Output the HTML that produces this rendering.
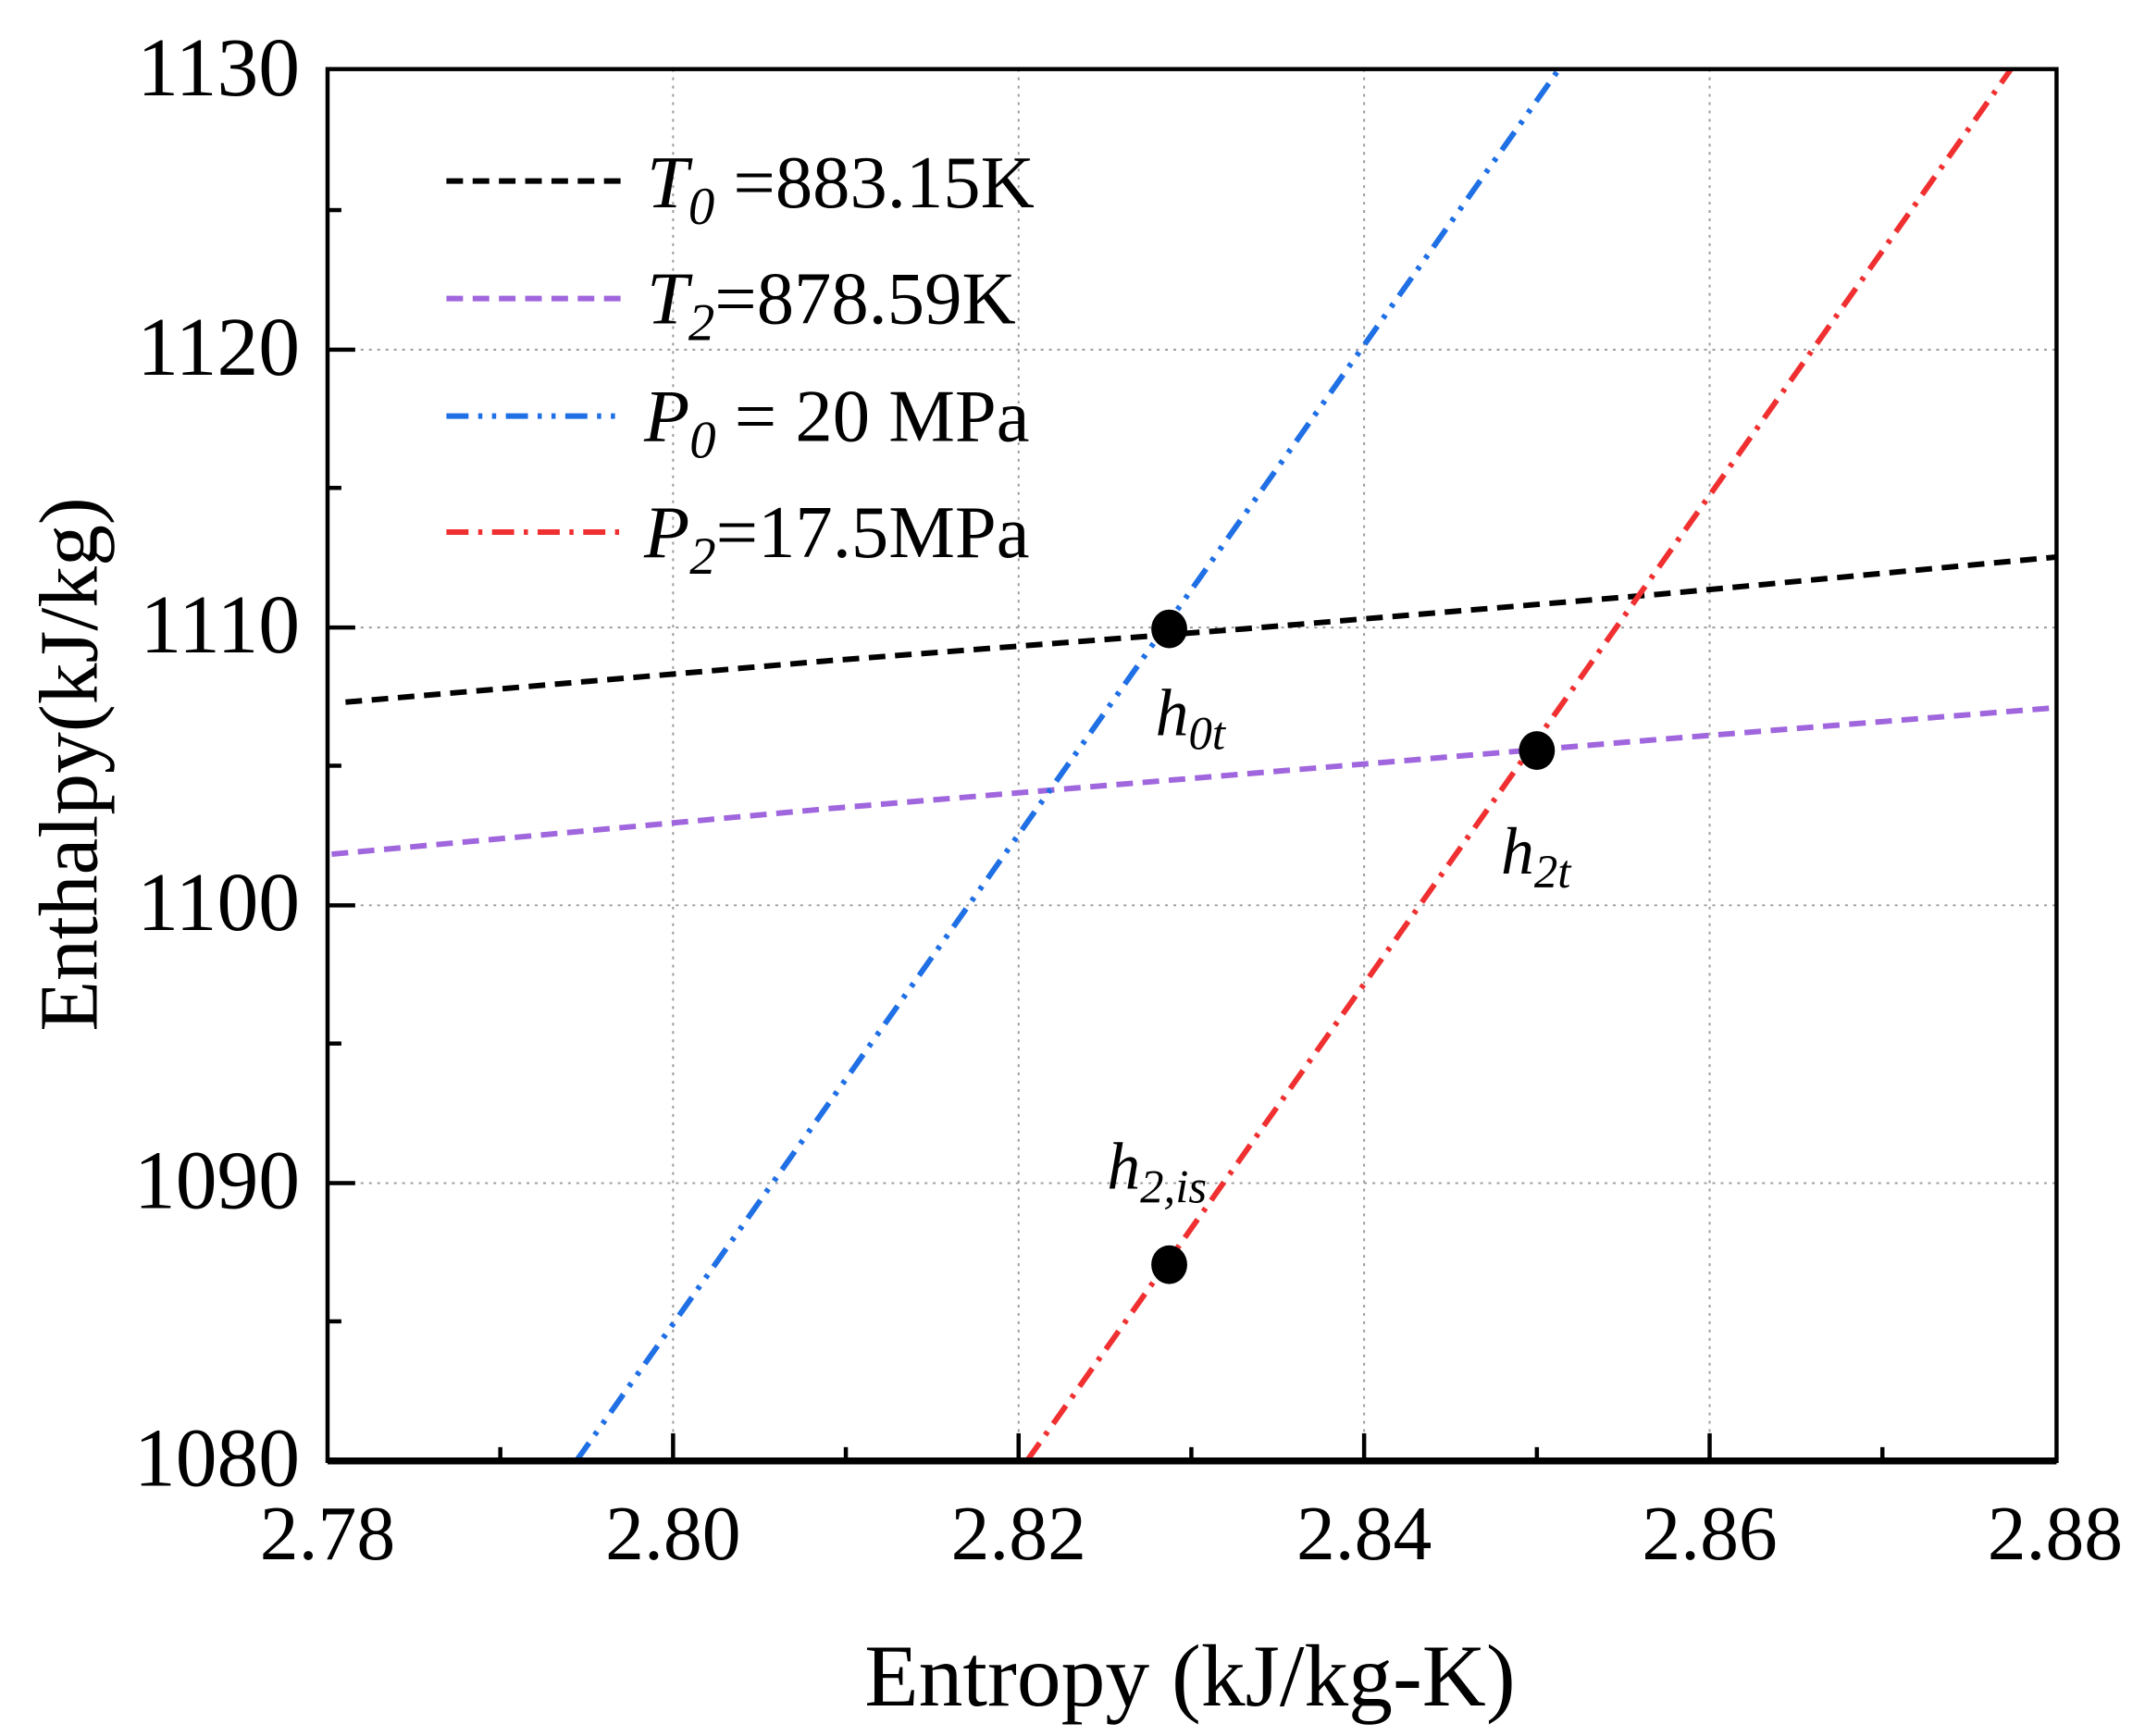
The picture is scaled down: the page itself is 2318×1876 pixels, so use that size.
<!DOCTYPE html>
<html><head><meta charset="utf-8"><style>
html,body{margin:0;padding:0;background:#fff;}
svg{display:block;}
text{font-family:"Liberation Serif",serif;fill:#000;}
</style></head><body>
<svg width="2318" height="1876" viewBox="0 0 1552 1256" preserveAspectRatio="none" xmlns="http://www.w3.org/2000/svg">
<rect width="1552" height="1256" fill="#fff"/>
<g stroke="#999" stroke-width="1.3" stroke-dasharray="2,4">
<line x1="487" y1="50" x2="487" y2="1057"/>
<line x1="737" y1="50" x2="737" y2="1057"/>
<line x1="987" y1="50" x2="987" y2="1057"/>
<line x1="1237" y1="50" x2="1237" y2="1057"/>
<line x1="237" y1="253" x2="1488" y2="253"/>
<line x1="237" y1="454" x2="1488" y2="454"/>
<line x1="237" y1="655" x2="1488" y2="655"/>
<line x1="237" y1="856" x2="1488" y2="856"/>
</g>
<g fill="none" stroke-width="4">
<path d="M250,508 L600,478 L900,455 L1200,430 L1488,403" stroke="#000" stroke-dasharray="12,7"/>
<path d="M240,618 L600,585 L900,560 L1200,535 L1488,512" stroke="#a066dd" stroke-dasharray="12,7"/>
<path d="M417,1057 L1128,50" stroke="#1f6fe5" stroke-dasharray="16,7,3,7,3,7"/>
<path d="M743,1057 L1455,50" stroke="#f03030" stroke-dasharray="16,7,3,7"/>
</g>
<ellipse cx="846" cy="455" rx="13" ry="14"/>
<ellipse cx="1112" cy="543" rx="13" ry="14"/>
<ellipse cx="846" cy="915" rx="13" ry="14"/>
<g font-style="italic" font-size="48">
<text x="836" y="532">h<tspan font-size="34" dy="10">0t</tspan></text>
<text x="1086" y="632">h<tspan font-size="34" dy="10">2t</tspan></text>
<text x="801" y="860">h<tspan font-size="34" dy="10">2,is</tspan></text>
</g>
<g fill="none" stroke="#000" stroke-width="3">
<rect x="237" y="50" width="1251" height="1007"/>
</g>
<line x1="237" y1="1057" x2="1488" y2="1057" stroke="#000" stroke-width="5"/>
<g stroke="#000" stroke-width="3">
<line x1="487" y1="1057" x2="487" y2="1037"/>
<line x1="737" y1="1057" x2="737" y2="1037"/>
<line x1="987" y1="1057" x2="987" y2="1037"/>
<line x1="1237" y1="1057" x2="1237" y2="1037"/>
<line x1="362" y1="1057" x2="362" y2="1047"/>
<line x1="612" y1="1057" x2="612" y2="1047"/>
<line x1="862" y1="1057" x2="862" y2="1047"/>
<line x1="1112" y1="1057" x2="1112" y2="1047"/>
<line x1="1362" y1="1057" x2="1362" y2="1047"/>
<line x1="237" y1="253" x2="257" y2="253"/>
<line x1="237" y1="454" x2="257" y2="454"/>
<line x1="237" y1="655" x2="257" y2="655"/>
<line x1="237" y1="856" x2="257" y2="856"/>
<line x1="237" y1="152" x2="247" y2="152"/>
<line x1="237" y1="353" x2="247" y2="353"/>
<line x1="237" y1="554" x2="247" y2="554"/>
<line x1="237" y1="755" x2="247" y2="755"/>
<line x1="237" y1="956" x2="247" y2="956"/>
</g>
<g font-size="60" text-anchor="end">
<text x="217" y="69">1130</text>
<text x="217" y="271">1120</text>
<text x="217" y="472">1110</text>
<text x="217" y="673">1100</text>
<text x="217" y="874">1090</text>
<text x="217" y="1075">1080</text>
</g>
<g font-size="56" text-anchor="middle">
<text x="237" y="1128">2.78</text>
<text x="487" y="1128">2.80</text>
<text x="737" y="1128">2.82</text>
<text x="987" y="1128">2.84</text>
<text x="1237" y="1128">2.86</text>
<text x="1487" y="1128">2.88</text>
</g>
<text x="861" y="1234" font-size="64" text-anchor="middle">Entropy (kJ/kg-K)</text>
<text transform="translate(70,553) rotate(-90)" font-size="60" text-anchor="middle">Enthalpy(kJ/kg)</text>
<g fill="none" stroke-width="4">
<line x1="323" y1="131" x2="450" y2="131" stroke="#000" stroke-dasharray="12,7"/>
<line x1="323" y1="216" x2="450" y2="216" stroke="#a066dd" stroke-dasharray="12,7"/>
<line x1="323" y1="301" x2="450" y2="301" stroke="#1f6fe5" stroke-dasharray="16,7,3,7,3,7"/>
<line x1="323" y1="385" x2="450" y2="385" stroke="#f03030" stroke-dasharray="16,7,3,7"/>
</g>
<g font-size="54">
<text x="468" y="150"><tspan font-style="italic">T</tspan><tspan font-style="italic" font-size="38" dy="12">0</tspan><tspan dy="-12"> =883.15K</tspan></text>
<text x="468" y="234"><tspan font-style="italic">T</tspan><tspan font-style="italic" font-size="38" dy="12">2</tspan><tspan dy="-12">=878.59K</tspan></text>
<text x="466" y="319"><tspan font-style="italic">P</tspan><tspan font-style="italic" font-size="38" dy="12">0</tspan><tspan dy="-12"> = 20  MPa</tspan></text>
<text x="466" y="403"><tspan font-style="italic">P</tspan><tspan font-style="italic" font-size="38" dy="12">2</tspan><tspan dy="-12">=17.5MPa</tspan></text>
</g>
</svg>
</body></html>
